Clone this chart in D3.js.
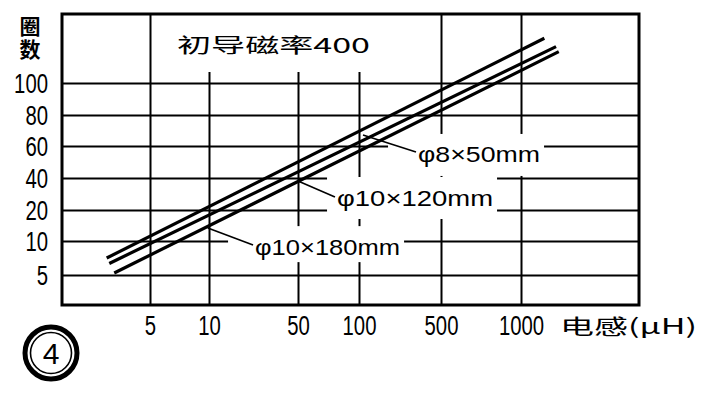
<!DOCTYPE html>
<html><head><meta charset="utf-8">
<script src="https://cdn.jsdelivr.net/npm/d3@7"></script>
<style>html,body{margin:0;padding:0;background:#fff;} svg{display:block}</style>
</head><body><svg id="c" width="706" height="398"></svg>
<script>
// ---------- data ----------
const yTickValues = [5, 10, 20, 40, 60, 80, 100];
const yTickLabels = ["5", "10", "20", "40", "60", "80", "100"];
const xTickValues = [5, 10, 50, 100, 500, 1000];
const xTickLabels = ["5", "10", "50", "100", "500", "1000"];
const seriesNames = ["φ8×50mm", "φ10×120mm", "φ10×180mm"];
const seriesInductance = [[1.33, 1146], [1.55, 1219], [1.97, 1236]]; // μH at line ends
const seriesTurns = [[7.5, 128], [6.7, 122.7], [5.3, 119.6]];        // turns at line ends
const labelInductance = [388, 82, 30.7];
const labelTurns = [54.4, 27.5, 9.1];
const pointerFromInductance = [378, 80.3, 29.8];
const pointerFromTurns = [56.3, 28.1, 9.4];
const pointerToInductance = [119.5, 50, 9.9];
const pointerToTurns = [67.1, 38.1, 14.2];
const titleText = "初导磁率400";
const yTitleText = "圈数";
const xTitleText = "电感(μH)";
const figureNo = "4";

// ---------- layout ----------
const L = 62, R = 639, T = 14, B = 305;
const xTickPos = [150, 209, 298, 359, 441, 521];
const yTickPos = [275, 241, 210, 178, 146, 115, 83];
const labelWidths = [122, 156, 145];
const labelPadLeft = [30, 10, 27];
const NUMF = "'Liberation Sans',Arial,sans-serif";
const CJK = "'Noto Sans CJK SC','Noto Sans CJK JP',sans-serif";
const charW = 11.3;

const svg = d3.select("#c");
svg.append("rect").attr("width", 706).attr("height", 398).attr("fill", "#fff");

const x = d3.scaleLinear().domain(xTickValues).range(xTickPos);
const y = d3.scaleLinear().domain(yTickValues).range(yTickPos);

// gridlines + tick labels via axes
const gx = svg.append("g").attr("transform", `translate(0,${B})`)
  .call(d3.axisBottom(x).tickValues(xTickValues).tickSize(-(B - T))
    .tickFormat((d, i) => xTickLabels[i]));
gx.select(".domain").remove();
gx.selectAll(".tick line").attr("stroke", "#000").attr("stroke-width", 2);
gx.selectAll(".tick text").attr("y", 21).attr("dy", 0).attr("dominant-baseline", "central")
  .attr("font-family", NUMF).attr("font-size", 27).attr("fill", "#000")
  .attr("textLength", (d, i) => xTickLabels[i].length * charW).attr("lengthAdjust", "spacingAndGlyphs");

const gy = svg.append("g").attr("transform", `translate(${L},0)`)
  .call(d3.axisLeft(y).tickValues(yTickValues).tickSize(-(R - L))
    .tickFormat((d, i) => yTickLabels[i]));
gy.select(".domain").remove();
gy.selectAll(".tick line").attr("stroke", "#000").attr("stroke-width", 2);
gy.selectAll(".tick text").attr("x", -14).attr("dy", 0).attr("dominant-baseline", "central")
  .attr("font-family", NUMF).attr("font-size", 28).attr("fill", "#000")
  .attr("textLength", (d, i) => yTickLabels[i].length * charW).attr("lengthAdjust", "spacingAndGlyphs");

// title backing + title
const titleBack = svg.append("rect").attr("fill", "#fff");
const title = svg.append("text").attr("x", 177).attr("y", 44)
  .attr("dominant-baseline", "central")
  .attr("font-family", CJK).attr("font-size", 20).attr("fill", "#000")
  .attr("textLength", 193).attr("lengthAdjust", "spacingAndGlyphs")
  .text(titleText);
const tb = title.node().getBBox();
titleBack.attr("x", tb.x - 12).attr("y", T + 1).attr("width", tb.width + 15).attr("height", 72 - T - 1);

// label backings
seriesNames.forEach((name, i) => {
  const lx = x(labelInductance[i]), ly = y(labelTurns[i]);
  svg.append("rect")
    .attr("x", lx - labelPadLeft[i]).attr("y", ly - 21)
    .attr("width", labelWidths[i] + labelPadLeft[i] + 4).attr("height", i === 2 ? 36 : 42)
    .attr("fill", "#fff");
});

// frame
svg.append("rect").attr("x", L).attr("y", T).attr("width", R - L).attr("height", B - T)
  .attr("fill", "none").attr("stroke", "#000").attr("stroke-width", 3);

// series lines
const line = d3.line().x(d => x(d[0])).y(d => y(d[1]));
seriesNames.forEach((name, i) => {
  const pts = seriesInductance[i].map((v, k) => [v, seriesTurns[i][k]]);
  svg.append("path").datum(pts).attr("d", line)
    .attr("fill", "none").attr("stroke", "#000").attr("stroke-width", 3.2);
});

// pointers + labels
seriesNames.forEach((name, i) => {
  svg.append("line")
    .attr("x1", x(pointerFromInductance[i])).attr("y1", y(pointerFromTurns[i]))
    .attr("x2", x(pointerToInductance[i])).attr("y2", y(pointerToTurns[i]))
    .attr("stroke", "#000").attr("stroke-width", 1.6);
  svg.append("text")
    .attr("x", x(labelInductance[i])).attr("y", y(labelTurns[i]))
    .attr("dominant-baseline", "central")
    .attr("font-family", NUMF).attr("font-size", 22).attr("fill", "#000")
    .attr("textLength", labelWidths[i]).attr("lengthAdjust", "spacingAndGlyphs")
    .text(name);
});

// y title (stacked vertically, single text)
svg.append("text").attr("x", 30).attr("y", 16)
  .attr("writing-mode", "vertical-rl").style("writing-mode", "vertical-rl")
  .attr("letter-spacing", 2)
  .attr("font-family", CJK).attr("font-size", 21).attr("font-weight", "bold").attr("fill", "#000")
  .text(yTitleText);

// x title
svg.append("text").attr("x", 560).attr("y", 325)
  .attr("dominant-baseline", "central")
  .attr("font-family", CJK).attr("font-size", 21).attr("fill", "#000")
  .attr("textLength", 137).attr("lengthAdjust", "spacingAndGlyphs")
  .text(xTitleText);

// figure number in double circle
const fig = svg.append("g").attr("transform", "translate(51,353)");
fig.append("circle").attr("r", 26).attr("fill", "none").attr("stroke", "#000").attr("stroke-width", 5);
fig.append("circle").attr("r", 20.5).attr("fill", "none").attr("stroke", "#000").attr("stroke-width", 1.6);
fig.append("text").attr("text-anchor", "middle").attr("dominant-baseline", "central").attr("y", 0)
  .attr("font-family", NUMF).attr("font-size", 30).attr("fill", "#000")
  .text(figureNo);
</script>
</body></html>
